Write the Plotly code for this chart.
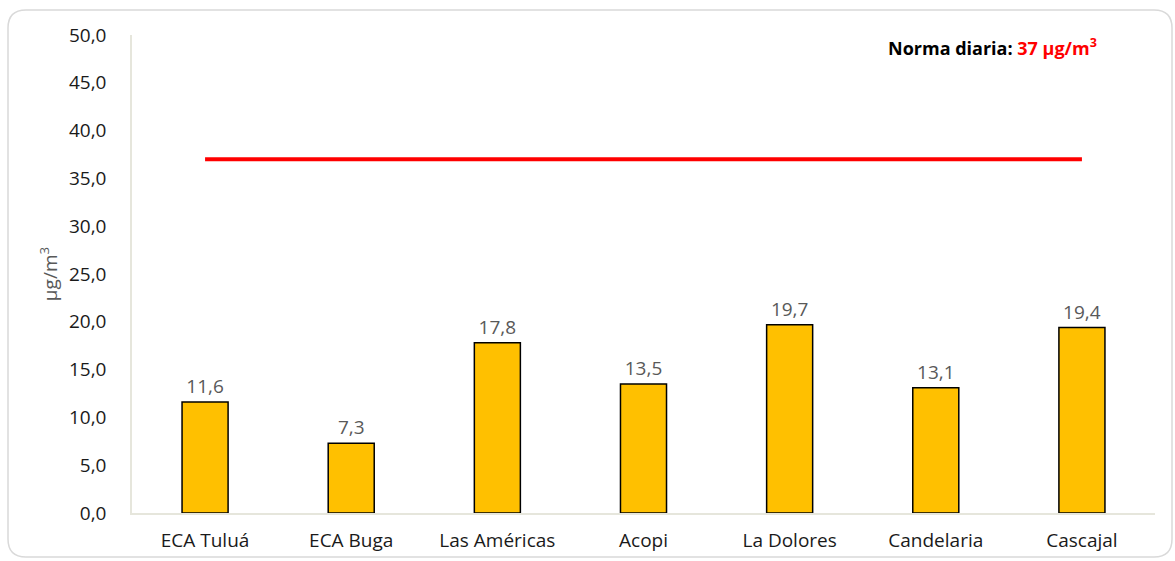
"""Concentración diaria promedio por estación frente a la norma diaria."""
import plotly.graph_objects as go

stations = ["ECA Tuluá", "ECA Buga", "Las Américas", "Acopi",
            "La Dolores", "Candelaria", "Cascajal"]
values = [11.6, 7.3, 17.8, 13.5, 19.7, 13.1, 19.4]
norma = 37

FONT = "Open Sans"
W, H = 1175, 561
L, R, T, B = 132, 20, 35, 48
pw, ph = W - L - R, H - T - B


def px(x):
    return (x - L) / pw


def py(y):
    return (H - B - y) / ph


fig = go.Figure()

fig.add_trace(go.Bar(
    x=stations, y=values,
    marker=dict(color="#FFC000", line=dict(color="#000000", width=1.5)),
    width=0.315,
    texttemplate="%{y:.1f}",
    textposition="outside",
    textfont=dict(family=FONT, size=19, color="#595959"),
    cliponaxis=False,
    showlegend=False,
))

# norma diaria
fig.add_trace(go.Scatter(
    x=[stations[0], stations[-1]], y=[norma, norma],
    mode="lines", line=dict(color="#FF0000", width=4),
    showlegend=False, hoverinfo="skip",
))

fig.add_annotation(
    x=px(1099), y=py(47), xref="paper", yref="paper",
    xanchor="right", yanchor="middle", showarrow=False,
    text="<b>Norma diaria: <span style='color:#FF0000'>37 µg/m<sup>3</sup></span></b>",
    font=dict(family=FONT, size=18, color="#000000"),
)

# rounded chart border
x0, x1, y0, y1 = px(8), px(1172), py(557), py(10)
rx, ry = 18 / pw, 18 / ph
path = (f"M {x0+rx},{y1} L {x1-rx},{y1} Q {x1},{y1} {x1},{y1-ry} "
        f"L {x1},{y0+ry} Q {x1},{y0} {x1-rx},{y0} L {x0+rx},{y0} "
        f"Q {x0},{y0} {x0},{y0+ry} L {x0},{y1-ry} Q {x0},{y1} {x0+rx},{y1} Z")
fig.add_shape(type="path", path=path, xref="paper", yref="paper",
              line=dict(color="#D9D9D9", width=1.5), layer="below")

fig.update_layout(
    width=W, height=H,
    separators=",.",
    plot_bgcolor="white", paper_bgcolor="white",
    margin=dict(l=L, r=R, t=T, b=B),
    font=dict(family=FONT, size=19, color="#000000"),
    xaxis=dict(showline=True, linecolor="#E6E6DC", linewidth=1.5,
               ticks="", ticklabelstandoff=9, automargin=False,
               tickfont=dict(size=19, color="#1a1a1a")),
    yaxis=dict(range=[0, 50], dtick=5, tickformat=".1f",
               showgrid=False, zeroline=False, automargin=False,
               showline=True, linecolor="#E6E6DC", linewidth=1.5,
               ticks="", ticklabelstandoff=20,
               tickfont=dict(size=19, color="#1a1a1a"),
               title=dict(text="µg/m<sup>3</sup>", standoff=6,
                          font=dict(size=19, color="#595959"))),
)

page_fix = (
    "document.body.style.margin='0';"
    "document.body.style.height='561px';"
    "document.body.style.overflow='hidden';"
    "document.documentElement.style.overflow='hidden';"
)
fig.write_html("out.html", config={"displayModeBar": False},
               post_script=page_fix)
